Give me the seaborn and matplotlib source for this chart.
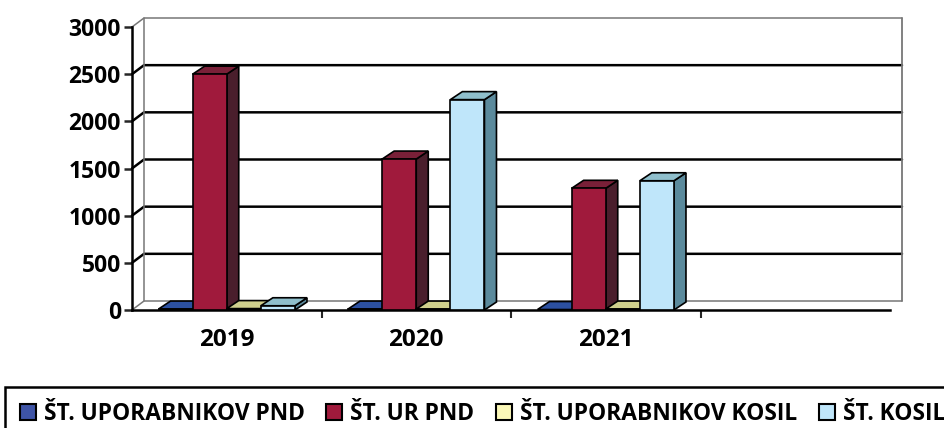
import pandas as pd
import matplotlib.pyplot as plt
import seaborn as sns
from matplotlib.patches import Polygon, Rectangle
from matplotlib.lines import Line2D
from matplotlib.transforms import IdentityTransform

years = ["2019", "2020", "2021", " "]
series_names = ["ŠT. UPORABNIKOV PND", "ŠT. UR PND", "ŠT. UPORABNIKOV KOSIL", "ŠT. KOSIL"]
uporabniki_pnd = [10, 10, 5, None]
ure_pnd = [2500, 1600, 1290, None]
uporabniki_kosil = [15, 10, 10, None]
kosila = [45, 2230, 1370, None]
y_ticks = [0, 500, 1000, 1500, 2000, 2500, 3000]

front_colors = ["#3E54A6", "#A01A3C", "#FBF8B8", "#BFE6FA"]
side_colors = ["#1F2F66", "#4A1E2C", "#6E6E40", "#5B8A9C"]
top_colors = ["#2C50A0", "#7A2038", "#CFCF8C", "#8FBFCC"]

W, H = 945, 428
DX, DY = 12, 9  # globina 3D v pikslih

rows = []
for name, vals in zip(series_names, [uporabniki_pnd, ure_pnd, uporabniki_kosil, kosila]):
    for year, v in zip(years, vals):
        rows.append({"leto": year, "serija": name, "vrednost": v})
df = pd.DataFrame(rows)

sns.set_theme(style="white")
plt.rcParams["font.family"] = ["Open Sans", "DejaVu Sans"]

fig = plt.figure(figsize=(W / 100, H / 100), dpi=100)
ax = fig.add_axes([132 / W, 1 - 310 / H, (890 - 132) / W, (310 - 27) / H])
sns.barplot(data=df, x="leto", y="vrednost", hue="serija", order=years, hue_order=series_names,
            palette=front_colors, saturation=1, width=0.72, gap=0, edgecolor="black", linewidth=1.2, ax=ax)
ax.set_xlim(-0.5, 3.5)
ax.set_ylim(0, 3000)
ax.set_xlabel("")
ax.set_ylabel("")
ax.patch.set_alpha(0)

# stena in mreza v ozadju
to_px = ax.transData.transform
px = IdentityTransform()
for t in y_ticks:
    x0, y0 = to_px((-0.5, t))
    x1, y1 = to_px((3.5, t))
    strong = t not in (0, 3000)
    color = "black" if strong else "#777777"
    lw = 1.8 if strong else 1.1
    fig.add_artist(Line2D([x0, x0 + DX, x1 + DX], [y0, y0 + DY, y1 + DY], transform=px, color=color, lw=lw, zorder=0))
x0, y0 = to_px((-0.5, 0))
x1, y1 = to_px((3.5, 0))
_, ytop = to_px((0, 3000))
fig.add_artist(Line2D([x0 + DX, x0 + DX], [y0 + DY, ytop + DY], transform=px, color="#777777", lw=1.1, zorder=0))
fig.add_artist(Line2D([x1 + DX, x1 + DX], [y0 + DY, ytop + DY], transform=px, color="#777777", lw=1.3, zorder=0))

# stranske in zgornje ploskve stolpcev
for i, cont in enumerate(ax.containers):
    for bar in cont:
        h = bar.get_height()
        if not h > 0:
            continue
        bar.set_zorder(4 + i + 0.5)
        xl, yt = to_px((bar.get_x(), h))
        xr, yb = to_px((bar.get_x() + bar.get_width(), 0))
        side = [(xr, yb), (xr, yt), (xr + DX, yt + DY - 1), (xr + DX, yb + DY - 1)]
        top = [(xl, yt), (xr, yt), (xr + DX, yt + DY - 1), (xl + DX, yt + DY - 1)]
        ax.add_patch(Polygon(side, closed=True, transform=px, fc=side_colors[i], ec="black", lw=1.2, zorder=4 + i, clip_on=False))
        ax.add_patch(Polygon(top, closed=True, transform=px, fc=top_colors[i], ec="black", lw=1.2, zorder=4 + i, clip_on=False))

sns.despine(ax=ax)
for s in ("left", "bottom"):
    ax.spines[s].set_linewidth(1.8)
    ax.spines[s].set_color("black")
ax.set_yticks(y_ticks)
ax.set_yticklabels([str(t) for t in y_ticks], fontsize=16.5, fontweight="bold", color="black")
ax.set_xticks([0, 1, 2])
ax.set_xticklabels(years[:3], fontsize=17.5, fontweight="bold", color="black")
ax.set_xticks([0.5, 1.5, 2.5], minor=True)
ax.tick_params(axis="y", left=True, length=6, width=1.8, pad=2)
ax.tick_params(axis="x", which="major", bottom=False, pad=7)
ax.tick_params(axis="x", which="minor", bottom=True, length=6, width=1.5)

# legenda
handles = [Rectangle((0, 0), 1, 1, fc=c, ec="black", lw=1.5) for c in front_colors]
if ax.get_legend() is not None:
    ax.get_legend().remove()
leg = fig.legend(handles, series_names, ncol=4, loc="lower left", bbox_to_anchor=(5 / W, -12.6 / H),
                 borderaxespad=0, borderpad=0.65, frameon=True, fancybox=False, edgecolor="black",
                 prop={"family": "Open Sans", "weight": "bold", "size": 16.4},
                 handlelength=0.7, handleheight=0.7, handletextpad=0.35, columnspacing=0.95, labelcolor="black")
leg.get_frame().set_linewidth(1.8)
leg.get_frame().set_alpha(1)

fig.savefig("out.png", dpi=100)
